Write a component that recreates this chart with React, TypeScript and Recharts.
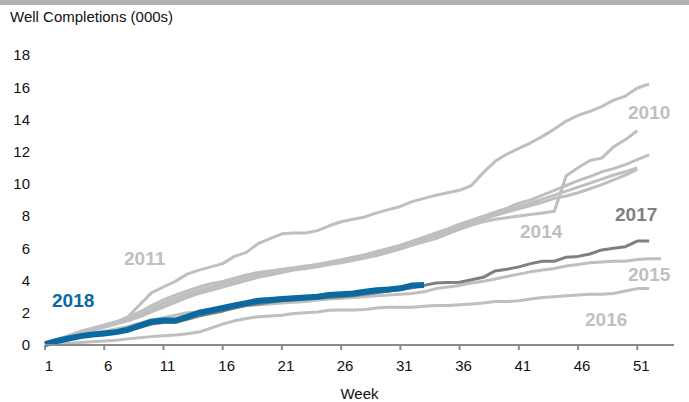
import React from 'react';
import { LineChart, Line, XAxis, YAxis } from 'recharts';

// week numbers on the x axis
const weeks = [
  1, 2, 3, 4, 5, 6, 7, 8, 9, 10, 11, 12, 13, 14, 15, 16, 17, 18, 19, 20, 21, 22, 23, 24, 25, 26,
  27, 28, 29, 30, 31, 32, 33, 34, 35, 36, 37, 38, 39, 40, 41, 42, 43, 44, 45, 46, 47, 48, 49, 50,
  51, 52, 53,
];
const weekTicks = [1, 6, 11, 16, 21, 26, 31, 36, 41, 46, 51];
const valueTicks = [0, 2, 4, 6, 8, 10, 12, 14, 16, 18];

// cumulative well completions (000s)
const y2010 = [
  0.1, 0.35, 0.6, 0.85, 1.05, 1.25, 1.45, 1.7, 2.05, 2.45, 2.8, 3.1, 3.35, 3.6, 3.8, 3.95, 4.15,
  4.35, 4.5, 4.6, 4.7, 4.8, 4.9, 5.0, 5.15, 5.3, 5.45, 5.6, 5.8, 6.0, 6.2, 6.45, 6.7, 6.95, 7.2,
  7.5, 7.75, 8.0, 8.25, 8.5, 8.8, 9.0, 9.3, 9.6, 9.9, 10.2, 10.45, 10.75, 10.95, 11.2, 11.5, 11.8,
];
const y2011 = [
  0.1, 0.3, 0.5, 0.75, 0.95, 1.2, 1.4, 1.75, 2.5, 3.25, 3.6, 3.95, 4.4, 4.65, 4.85, 5.05, 5.5, 5.75,
  6.3, 6.6, 6.9, 6.95, 6.95, 7.1, 7.4, 7.65, 7.8, 7.95, 8.2, 8.4, 8.6, 8.9, 9.1, 9.3, 9.45, 9.6,
  9.9, 10.7, 11.4, 11.85, 12.2, 12.55, 12.95, 13.4, 13.9, 14.25, 14.5, 14.8, 15.2, 15.45, 15.95, 16.2,
];
const y2012 = [
  0.1, 0.3, 0.5, 0.75, 0.95, 1.15, 1.35, 1.55, 1.8, 2.1, 2.4, 2.7, 3.0, 3.25, 3.45, 3.65, 3.85,
  4.05, 4.25, 4.4, 4.55, 4.7, 4.8, 4.95, 5.05, 5.15, 5.3, 5.45, 5.6, 5.8, 6.0, 6.2, 6.4, 6.6, 6.9,
  7.2, 7.45, 7.8, 8.05, 8.25, 8.45, 8.65, 8.85, 9.1, 9.25, 9.45, 9.7, 9.95, 10.25, 10.55, 10.9,
];
const y2013 = [
  0.1, 0.3, 0.55, 0.8, 1.0, 1.2, 1.4, 1.6, 1.9, 2.25, 2.6, 2.9, 3.15, 3.4, 3.6, 3.8, 4.0, 4.2,
  4.4, 4.5, 4.6, 4.75, 4.85, 5.0, 5.1, 5.2, 5.35, 5.5, 5.7, 5.9, 6.1, 6.35, 6.55, 6.8, 7.05, 7.35,
  7.6, 7.9, 8.15, 8.35, 8.6, 8.8, 9.05, 9.3, 9.55, 9.8, 10.05, 10.3, 10.55, 10.75, 11.0,
];
const y2014 = [
  0.1, 0.3, 0.5, 0.7, 0.9, 1.1, 1.3, 1.5, 1.75, 2.05, 2.35, 2.65, 2.95, 3.2, 3.4, 3.6, 3.8, 4.0,
  4.2, 4.35, 4.5, 4.65, 4.75, 4.85, 5.0, 5.1, 5.25, 5.4, 5.55, 5.75, 5.95, 6.2, 6.45, 6.7, 6.95, 7.2,
  7.45, 7.65, 7.8, 7.9, 8.0, 8.1, 8.2, 8.3, 10.5, 11.0, 11.45, 11.6, 12.3, 12.75, 13.3,
];
const y2015 = [
  0.05, 0.2, 0.4, 0.55, 0.7, 0.85, 1.0, 1.15, 1.35, 1.55, 1.7, 1.85, 2.0, 2.05, 2.1, 2.2, 2.35, 2.45,
  2.5, 2.55, 2.6, 2.65, 2.7, 2.8, 2.85, 2.9, 2.95, 3.0, 3.05, 3.1, 3.15, 3.2, 3.3, 3.5, 3.6, 3.7,
  3.85, 3.95, 4.1, 4.25, 4.4, 4.55, 4.65, 4.75, 4.9, 5.0, 5.1, 5.15, 5.2, 5.2, 5.3, 5.35, 5.35,
];
const y2016 = [
  0.0, 0.05, 0.1, 0.15, 0.2, 0.25, 0.3, 0.38, 0.45, 0.52, 0.58, 0.62, 0.7, 0.8, 1.05, 1.3, 1.5,
  1.65, 1.75, 1.8, 1.85, 1.95, 2.0, 2.05, 2.15, 2.18, 2.18, 2.2, 2.3, 2.35, 2.35, 2.35, 2.4, 2.45,
  2.45, 2.5, 2.55, 2.6, 2.7, 2.7, 2.75, 2.85, 2.95, 3.0, 3.05, 3.1, 3.15, 3.15, 3.2, 3.35, 3.5, 3.5,
];
const y2017 = [
  0.05, 0.2, 0.35, 0.5, 0.6, 0.7, 0.8, 0.9, 1.1, 1.3, 1.4, 1.4, 1.6, 1.8, 1.95, 2.1, 2.3,
  2.45, 2.55, 2.65, 2.75, 2.8, 2.85, 2.9, 2.95, 3.0, 3.05, 3.15, 3.25, 3.35, 3.45, 3.55, 3.7, 3.85, 3.88,
  3.9, 4.05, 4.2, 4.6, 4.7, 4.85, 5.05, 5.2, 5.2, 5.45, 5.5, 5.65, 5.9, 6.0, 6.1, 6.45, 6.45,
];
const y2018 = [
  0.05, 0.25, 0.4, 0.55, 0.65, 0.72, 0.8, 0.95, 1.2, 1.45, 1.52, 1.52, 1.75, 2.0, 2.15, 2.3, 2.45,
  2.6, 2.75, 2.8, 2.85, 2.9, 2.95, 3.0, 3.1, 3.15, 3.2, 3.3, 3.4, 3.45, 3.52, 3.7, 3.72,
];

const greySeries: [string, number[]][] = [
  ['2010', y2010],
  ['2011', y2011],
  ['2012', y2012],
  ['2013', y2013],
  ['2014', y2014],
  ['2015', y2015],
  ['2016', y2016],
];

const data = weeks.map((w, i) => {
  const row: Record<string, number | undefined> = { week: w };
  greySeries.forEach(([k, arr]) => (row[k] = arr[i]));
  row['2017'] = y2017[i];
  row['2018'] = y2018[i];
  return row;
});

const LIGHT = '#bfbfbf';
const DARK = '#7f7f7f';
const BLUE = '#0a69a0';
const FONT = 'Arial, "Liberation Sans", sans-serif';

const tag = (color: string) => ({
  position: 'absolute' as const,
  fontFamily: FONT,
  fontWeight: 700,
  fontSize: 19,
  color,
  lineHeight: '20px',
});

export default function App() {
  return (
    <div style={{ position: 'absolute', left: 0, top: 0, width: 689, height: 402, background: '#fff', overflow: 'hidden' }}>
      <div style={{ position: 'absolute', left: 0, top: 0, width: 689, height: 5, background: '#b2b2b2' }} />
      <div style={{ position: 'absolute', left: 10, top: 8, fontFamily: FONT, fontSize: 15, color: '#111' }}>
        Well Completions (000s)
      </div>
      <LineChart width={689} height={402} data={data} margin={{ top: 55, right: 15, bottom: 0, left: 0 }}>
        <XAxis
          dataKey="week"
          type="number"
          domain={[1, 54.1]}
          ticks={weekTicks}
          interval={0}
          tickSize={5}
          tickMargin={10}
          tick={{ fill: '#111', fontSize: 15, fontFamily: FONT, dx: 4 }}
          axisLine={{ stroke: '#8c8c8c', strokeWidth: 2 }}
          tickLine={{ stroke: '#8c8c8c', strokeWidth: 2 }}
          height={57}
          label={{ value: 'Week', position: 'insideBottom', offset: 3, fill: '#111', fontSize: 15, fontFamily: FONT }}
        />
        <YAxis
          type="number"
          domain={[0, 18]}
          ticks={valueTicks}
          interval={0}
          width={45}
          axisLine={false}
          tickLine={false}
          tickSize={6}
          tickMargin={9}
          tick={{ fill: '#111', fontSize: 15, fontFamily: FONT }}
        />
        {greySeries.map(([k]) => (
          <Line
            key={k}
            dataKey={k}
            stroke={LIGHT}
            strokeWidth={3}
            dot={false}
            type="linear"
            strokeLinejoin="round"
            isAnimationActive={false}
          />
        ))}
        <Line dataKey="2017" stroke={DARK} strokeWidth={3} dot={false} type="linear" strokeLinejoin="round" isAnimationActive={false} />
        <Line dataKey="2018" stroke={BLUE} strokeWidth={6} dot={false} type="linear" strokeLinejoin="round" isAnimationActive={false} />
      </LineChart>
      <div style={{ ...tag(LIGHT), left: 628, top: 103 }}>2010</div>
      <div style={{ ...tag(LIGHT), left: 124, top: 249 }}>2011</div>
      <div style={{ ...tag(LIGHT), left: 520, top: 222 }}>2014</div>
      <div style={{ ...tag(DARK), left: 615, top: 205 }}>2017</div>
      <div style={{ ...tag(LIGHT), left: 628, top: 265 }}>2015</div>
      <div style={{ ...tag(LIGHT), left: 585, top: 310 }}>2016</div>
      <div style={{ ...tag(BLUE), left: 52, top: 291 }}>2018</div>
    </div>
  );
}
